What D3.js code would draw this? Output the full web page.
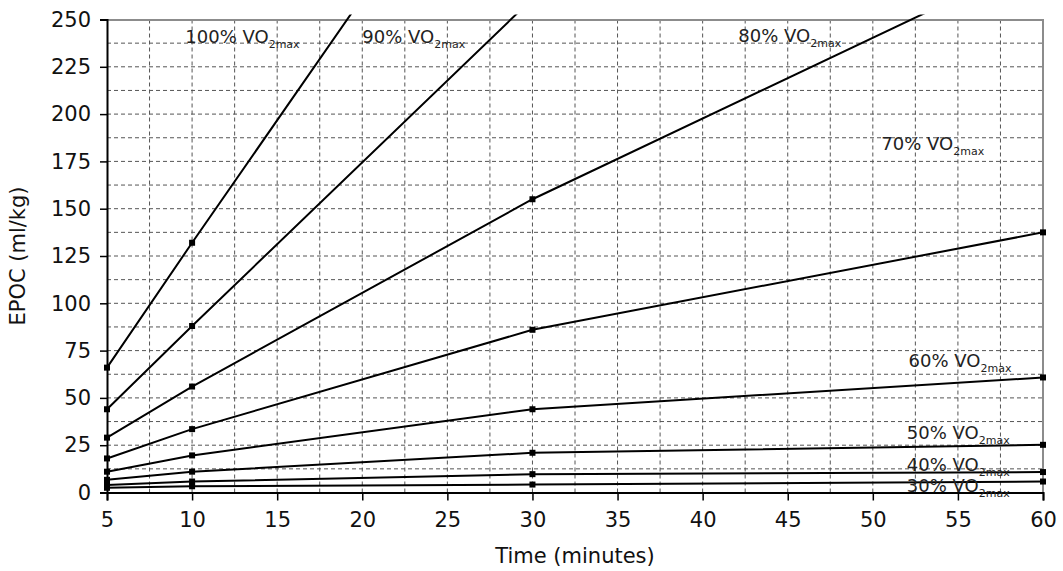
<!DOCTYPE html>
<html>
<head>
<meta charset="utf-8">
<script src="https://cdn.jsdelivr.net/npm/d3@7"></script>
<style>
    body { margin: 0; background: #fff; }
    text { font-family: "DejaVu Sans", Verdana, sans-serif; }
</style>
</head>
<body>
<div id="chart-area"></div>
<script>

// time points (minutes)
var times = [5, 10, 30, 60];

// EPOC values (ml/kg) for each intensity, null = off the chart
var vo100 = [66, 132, 391, null];
var vo90 = [44, 88, 261, null];
var vo80 = [29, 56, 155, 283];
var vo70 = [18, 33.5, 86, 137.5];
var vo60 = [11, 19.6, 44, 60.8];
var vo50 = [6.7, 11, 21, 25.2];
var vo40 = [4, 5.8, 9.7, 10.8];
var vo30 = [2.5, 3.3, 4.2, 5.8];

var seriesNames = ["100%", "90%", "80%", "70%", "60%", "50%", "40%", "30%"];
var seriesValues = [vo100, vo90, vo80, vo70, vo60, vo50, vo40, vo30];

// where each curve label sits, in data units (time, EPOC)
var labelTime = [9.6, 20, 42.1, 50.5, 52.1, 52.0, 52.0, 52.0];
var labelEpoc = [237.7, 237.7, 238, 181, 66.4, 28.3, 11.1, 0.4];

var xTicks = d3.range(5, 61, 5);
var yTicks = d3.range(0, 251, 25);

//margins and sizing
var margin = { top: 19.5, right: 20, bottom: 78.5, left: 107 };
var width = 1063 - margin.left - margin.right,
    height = 571 - margin.top - margin.bottom;

var svg = d3.select("#chart-area").append("svg")
    .attr("width", 1063)
    .attr("height", 571)
    .append("g")
    .attr("transform", "translate(" + margin.left + "," + margin.top + ")");

// scales
var x = d3.scaleLinear()
    .domain([5, 60])
    .range([0, 936]);

var y = d3.scaleLinear()
    .domain([0, 250])
    .range([473, 0]);

var plotW = x(60), plotH = y(0);

// dashed grid, every half step
var gridX = d3.range(7.5, 60, 2.5);
var gridY = d3.range(12.5, 250, 12.5);

svg.append("g").selectAll("line")
    .data(gridX)
    .enter().append("line")
    .attr("x1", function(d){ return x(d); })
    .attr("x2", function(d){ return x(d); })
    .attr("y1", 0)
    .attr("y2", plotH)
    .attr("stroke", "#555")
    .attr("stroke-width", 1)
    .attr("stroke-dasharray", "4,3");

svg.append("g").selectAll("line")
    .data(gridY)
    .enter().append("line")
    .attr("x1", 0)
    .attr("x2", plotW)
    .attr("y1", function(d){ return y(d); })
    .attr("y2", function(d){ return y(d); })
    .attr("stroke", "#555")
    .attr("stroke-width", 1)
    .attr("stroke-dasharray", "4,3");

// top and right frame (gray)
svg.append("path")
    .attr("d", "M0,0.5H" + plotW + "V" + plotH)
    .attr("fill", "none")
    .attr("stroke", "#8c8c8c")
    .attr("stroke-width", 2);

// clip the curves to the plot area
svg.append("clipPath")
    .attr("id", "plot-clip")
    .append("rect")
    .attr("x", -5)
    .attr("y", -5)
    .attr("width", plotW + 10)
    .attr("height", plotH + 10);

var line = d3.line()
    .defined(function(d){ return d[1] !== null; })
    .x(function(d){ return x(d[0]); })
    .y(function(d){ return y(d[1]); });

var curves = svg.append("g").attr("clip-path", "url(#plot-clip)");

seriesValues.forEach(function(vals){
    var pts = times.map(function(t, i){ return [t, vals[i]]; });

    curves.append("path")
        .datum(pts)
        .attr("d", line)
        .attr("fill", "none")
        .attr("stroke", "#000")
        .attr("stroke-width", 2);

    curves.selectAll(null)
        .data(pts.filter(function(d){ return d[1] !== null && d[1] <= 250; }))
        .enter().append("rect")
        .attr("x", function(d){ return x(d[0]) - 3; })
        .attr("y", function(d){ return y(d[1]) - 3; })
        .attr("width", 6)
        .attr("height", 6)
        .attr("fill", "#000");
});

// axes
var xAxis = d3.axisBottom(x)
    .tickValues(xTicks)
    .tickSize(8)
    .tickPadding(12);

var yAxis = d3.axisLeft(y)
    .tickValues(yTicks)
    .tickSize(7)
    .tickPadding(9);

svg.append("g")
    .attr("class", "x-axis axis")
    .attr("transform", "translate(0," + plotH + ")")
    .call(xAxis);

svg.append("g")
    .attr("class", "y-axis axis")
    .call(yAxis);

svg.selectAll(".axis .domain")
    .attr("stroke", "#000")
    .attr("stroke-width", 2);

svg.selectAll(".axis .tick line")
    .attr("stroke", "#000")
    .attr("stroke-width", 1.5);

svg.selectAll(".axis text")
    .style("font-family", "'DejaVu Sans', Verdana, sans-serif")
    .style("font-size", "21px")
    .attr("fill", "#111");

// curve labels
var labels = svg.append("g");
seriesNames.forEach(function(name, i){
    var t = labels.append("text")
        .attr("x", x(labelTime[i]))
        .attr("y", y(labelEpoc[i]))
        .attr("fill", "#222")
        .style("font-size", "18px");
    t.append("tspan").text(name + " VO");
    t.append("tspan")
        .attr("dy", 5)
        .style("font-size", "11px")
        .text("2max");
});

// axis titles
svg.append("text")
    .attr("transform", "translate(" + (plotW / 2) + "," + (plotH + 70) + ")")
    .style("text-anchor", "middle")
    .style("font-size", "21px")
    .attr("fill", "#111")
    .text("Time (minutes)");

svg.append("text")
    .attr("transform", "translate(" + (-82) + "," + (plotH / 2) + ") rotate(-90)")
    .style("text-anchor", "middle")
    .style("font-size", "21px")
    .attr("fill", "#111")
    .text("EPOC (ml/kg)");

</script>
</body>
</html>
